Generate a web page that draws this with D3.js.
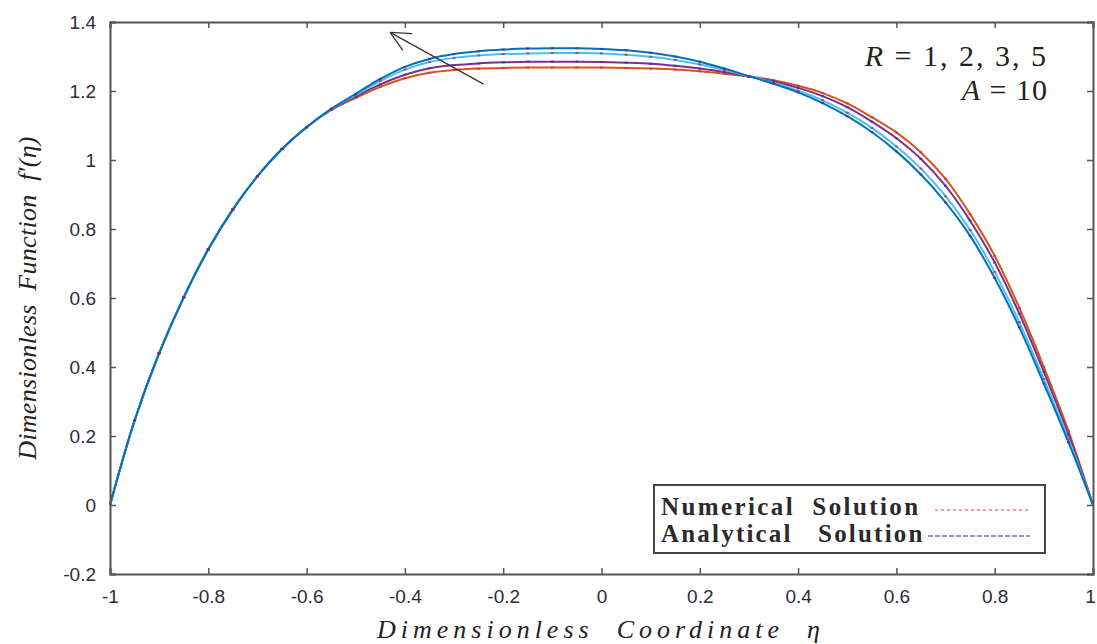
<!DOCTYPE html>
<html>
<head>
<meta charset="utf-8">
<script src="https://cdn.jsdelivr.net/npm/d3@7"></script>
<style>
  body { margin: 0; background: #fff; }
  svg { display: block; }
</style>
</head>
<body>
<svg id="chart" width="1097" height="644"></svg>
<script>
// Dimensionless coordinate eta
var eta = [-1, -0.95, -0.9, -0.85, -0.8, -0.75, -0.7, -0.65, -0.6, -0.55, -0.5,
  -0.45, -0.4, -0.35, -0.3, -0.25, -0.2, -0.15, -0.1, -0.05, 0,
  0.05, 0.1, 0.15, 0.2, 0.25, 0.3, 0.35, 0.4, 0.45, 0.5,
  0.55, 0.6, 0.65, 0.7, 0.75, 0.8, 0.85, 0.9, 0.95, 1];

// f'(eta) for each R, A = 10
var r1 = [0, 0.245, 0.44, 0.602, 0.741, 0.857, 0.953, 1.032, 1.095, 1.145, 1.180,
  1.212, 1.237, 1.253, 1.261, 1.265, 1.267, 1.268, 1.268, 1.268, 1.268,
  1.267, 1.265, 1.262, 1.257, 1.250, 1.242, 1.231, 1.215, 1.194, 1.164,
  1.124, 1.080, 1.022, 0.945, 0.843, 0.722, 0.572, 0.400, 0.215, 0];
var r2 = [0, 0.245, 0.44, 0.602, 0.741, 0.857, 0.953, 1.032, 1.095, 1.146, 1.184,
  1.219, 1.247, 1.266, 1.275, 1.280, 1.283, 1.285, 1.285, 1.285, 1.284,
  1.282, 1.279, 1.273, 1.265, 1.255, 1.242, 1.228, 1.209, 1.185, 1.153,
  1.111, 1.063, 1.003, 0.925, 0.824, 0.703, 0.555, 0.386, 0.205, 0];
var r3 = [0, 0.245, 0.44, 0.602, 0.741, 0.857, 0.953, 1.032, 1.095, 1.147, 1.188,
  1.229, 1.262, 1.284, 1.296, 1.303, 1.307, 1.309, 1.310, 1.310, 1.309,
  1.305, 1.299, 1.290, 1.277, 1.261, 1.243, 1.224, 1.201, 1.173, 1.137,
  1.093, 1.039, 0.975, 0.895, 0.797, 0.675, 0.530, 0.365, 0.192, 0];
var r5 = [0, 0.245, 0.44, 0.602, 0.741, 0.857, 0.953, 1.032, 1.095, 1.148, 1.192,
  1.235, 1.270, 1.293, 1.307, 1.315, 1.320, 1.323, 1.324, 1.324, 1.322,
  1.318, 1.311, 1.300, 1.285, 1.265, 1.243, 1.221, 1.196, 1.165, 1.127,
  1.081, 1.025, 0.958, 0.877, 0.780, 0.658, 0.515, 0.352, 0.182, 0];

var seriesColors = ["#D95319", "#7E2F8E", "#4DBEEE", "#0072BD"];
var xTicks = [-1, -0.8, -0.6, -0.4, -0.2, 0, 0.2, 0.4, 0.6, 0.8, 1];
var yTicks = [-0.2, 0, 0.2, 0.4, 0.6, 0.8, 1, 1.2, 1.4];

function renderChart() {
  var margin = { top: 22, right: 4, bottom: 70, left: 110 };
  var width = 1097, height = 644;
  var svg = d3.select("#chart");

  var x = d3.scaleLinear().domain([-1, 1]).range([margin.left, width - margin.right]);
  var y = d3.scaleLinear().domain([-0.2, 1.4]).range([height - margin.bottom, margin.top]);

  var series = [r1, r2, r3, r5].map(function(vals, i) {
    return { color: seriesColors[i], points: eta.map(function(e, j) { return [e, vals[j]]; }) };
  });

  var line = d3.line()
    .x(function(d) { return x(d[0]); })
    .y(function(d) { return y(d[1]); })
    .curve(d3.curveCatmullRom.alpha(0.5));

  // Curves
  var g = svg.append("g");
  series.forEach(function(s) {
    g.append("path")
      .attr("d", line(s.points))
      .attr("fill", "none")
      .attr("stroke", s.color)
      .attr("stroke-width", 2);
  });

  // Small solution markers (numerical red, analytical blue)
  series.forEach(function(s, i) {
    g.selectAll(null)
      .data(s.points.slice(1, -1))
      .enter().append("rect")
      .attr("x", function(d) { return x(d[0]) - 1.5; })
      .attr("y", function(d) { return y(d[1]) - 1; })
      .attr("width", 3).attr("height", 2)
      .attr("fill", i % 2 ? "#2a3f9a" : "#c8324a")
      .attr("opacity", 0.8);
  });

  // Axes (ticks inside, mirrored)
  var axisColor = "#555";
  var fontTick = "'Liberation Sans', Arial, sans-serif";
  var fmt = function(d) { return String(d); };
  var xb = svg.append("g")
    .attr("transform", "translate(0," + y(-0.2) + ")")
    .call(d3.axisBottom(x).tickValues(xTicks).tickSize(-6).tickPadding(16).tickFormat(fmt));
  var xt = svg.append("g")
    .attr("transform", "translate(0," + y(1.4) + ")")
    .call(d3.axisTop(x).tickValues(xTicks).tickSize(-6).tickFormat(""));
  var yl = svg.append("g")
    .attr("transform", "translate(" + x(-1) + ",0)")
    .call(d3.axisLeft(y).tickValues(yTicks).tickSize(-6).tickPadding(14).tickFormat(fmt));
  var yr = svg.append("g")
    .attr("transform", "translate(" + x(1) + ",0)")
    .call(d3.axisRight(y).tickValues(yTicks).tickSize(-6).tickFormat(""));

  [xb, xt, yl, yr].forEach(function(a) {
    a.select(".domain").attr("stroke", axisColor).attr("stroke-width", 2);
    a.selectAll(".tick line").attr("stroke", axisColor).attr("stroke-width", 1.5);
    a.selectAll("text")
      .attr("font-family", fontTick)
      .attr("font-size", 19)
      .attr("fill", "#2b2b3a");
  });
  // keep the last x label inside the page
  xb.selectAll(".tick text").filter(function(d) { return d === 1; }).attr("dx", -3);

  // Axis titles
  svg.append("text")
    .attr("x", 601).attr("y", 638)
    .attr("text-anchor", "middle")
    .attr("font-family", "'Liberation Serif', 'Times New Roman', serif")
    .attr("font-style", "italic")
    .attr("font-size", 26)
    .attr("letter-spacing", 5)
    .attr("fill", "#222")
    .attr("xml:space", "preserve")
    .text("Dimensionless  Coordinate  \u03b7");

  svg.append("text")
    .attr("transform", "translate(36," + 298 + ") rotate(-90)")
    .attr("text-anchor", "middle")
    .attr("font-family", "'Liberation Serif', 'Times New Roman', serif")
    .attr("font-style", "italic")
    .attr("font-size", 26)
    .attr("letter-spacing", 0.3)
    .attr("fill", "#222")
    .attr("xml:space", "preserve")
    .text("Dimensionless  Function  f\u2032(\u03b7)");

  // Parameter annotation
  var ann = svg.append("g")
    .attr("font-family", "'Liberation Serif', 'Times New Roman', serif")
    .attr("font-size", 30)
    .attr("fill", "#222")
    .attr("text-anchor", "end")
    .attr("xml:space", "preserve");
  var t1 = ann.append("text").attr("x", 1048).attr("y", 66).attr("letter-spacing", 2);
  t1.append("tspan").attr("font-style", "italic").text("R");
  t1.append("tspan").text(" = 1,  2,  3,  5");
  var t2 = ann.append("text").attr("x", 1048).attr("y", 100).attr("letter-spacing", 1);
  t2.append("tspan").attr("font-style", "italic").text("A");
  t2.append("tspan").text(" = 10");

  // Arrow showing increasing R
  var ax0 = x(-0.24), ay0 = y(1.22), ax1 = x(-0.43), ay1 = y(1.37);
  svg.append("line")
    .attr("x1", ax0).attr("y1", ay0).attr("x2", ax1).attr("y2", ay1)
    .attr("stroke", "#333").attr("stroke-width", 1.3);
  var ang = Math.atan2(ay1 - ay0, ax1 - ax0);
  [0.45, -0.45].forEach(function(da) {
    svg.append("line")
      .attr("x1", ax1).attr("y1", ay1)
      .attr("x2", ax1 - 22 * Math.cos(ang + da))
      .attr("y2", ay1 - 22 * Math.sin(ang + da))
      .attr("stroke", "#333").attr("stroke-width", 1.3);
  });

  // Legend
  var lg = svg.append("g");
  lg.append("rect")
    .attr("x", 654).attr("y", 485).attr("width", 391).attr("height", 68)
    .attr("fill", "#fff").attr("stroke", "#444").attr("stroke-width", 2);
  var lf = "'Liberation Serif', 'Times New Roman', serif";
  lg.append("text").attr("x", 661).attr("y", 515)
    .attr("font-family", lf).attr("font-size", 25).attr("font-weight", "bold")
    .attr("letter-spacing", 2.4)
    .attr("fill", "#2a2a2a").attr("xml:space", "preserve")
    .text("Numerical  Solution");
  lg.append("text").attr("x", 661).attr("y", 542)
    .attr("font-family", lf).attr("font-size", 25).attr("font-weight", "bold")
    .attr("letter-spacing", 2.2)
    .attr("fill", "#2a2a2a").attr("xml:space", "preserve")
    .text("Analytical   Solution");
  lg.append("line").attr("x1", 935).attr("x2", 1030).attr("y1", 510).attr("y2", 510)
    .attr("stroke", "#e8404a").attr("stroke-width", 1.2).attr("stroke-dasharray", "3,3");
  lg.append("line").attr("x1", 928).attr("x2", 1030).attr("y1", 536).attr("y2", 536)
    .attr("stroke", "#6f6fe0").attr("stroke-width", 1.4).attr("stroke-dasharray", "5,2");
}

window.onload = renderChart;
</script>
</body>
</html>
